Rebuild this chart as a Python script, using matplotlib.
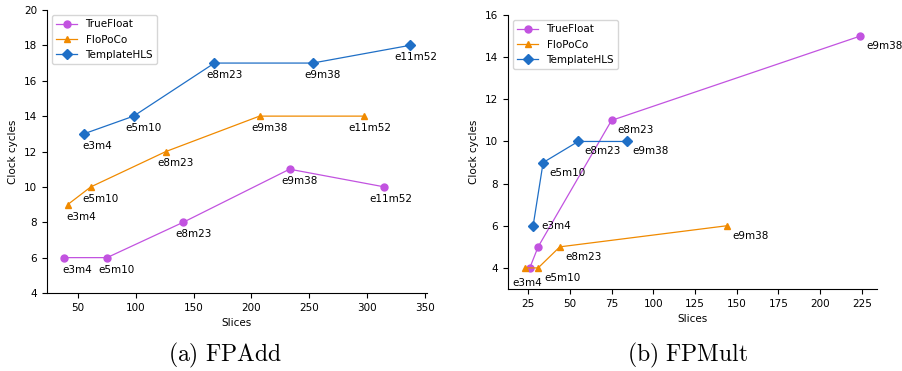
import numpy as np
import matplotlib
matplotlib.use('Agg')
import matplotlib.pyplot as plt

plt.rcParams['font.size'] = 7.5
plt.rcParams['mathtext.fontset'] = 'cm'

# FPAdd 数据
add_formats = ['e3m4', 'e5m10', 'e8m23', 'e9m38', 'e11m52']
add_truefloat_x = [38, 75, 141, 233, 315]
add_truefloat_y = [6, 6, 8, 11, 10]
add_flopoco_x = [41, 61, 126, 207, 297]
add_flopoco_y = [9, 10, 12, 14, 14]
add_hls_x = [55, 98, 168, 253, 337]
add_hls_y = [13, 14, 17, 17, 18]

# FPMult 数据
mult_formats = ['e3m4', 'e5m10', 'e8m23', 'e9m38']
mult_truefloat_x = [26, 31, 75, 224]
mult_truefloat_y = [4, 5, 11, 15]
mult_flopoco_x = [23, 31, 44, 144]
mult_flopoco_y = [4, 4, 5, 6]
mult_hls_x = [28, 34, 55, 84]
mult_hls_y = [6, 9, 10, 10]

colors = {'TrueFloat': '#c253e0', 'FloPoCo': '#f08a00', 'TemplateHLS': '#1f6fc6'}
markers = {'TrueFloat': 'o', 'FloPoCo': '^', 'TemplateHLS': 'D'}

fig = plt.figure(figsize=(9.03, 3.71), dpi=100)
ax1 = fig.add_axes([47 / 903, 1 - 293 / 371, 380 / 903, 283 / 371])
ax2 = fig.add_axes([508 / 903, 1 - 289 / 371, 369 / 903, 274 / 371])


def draw_series(ax, name, xs, ys):
    ms = 5.0 if markers[name] != 'D' else 4.6
    ax.plot(xs, ys, marker=markers[name], color=colors[name], label=name,
            linewidth=0.9, markersize=ms)


# (a) FPAdd
for name, xs, ys in [('TrueFloat', add_truefloat_x, add_truefloat_y),
                     ('FloPoCo', add_flopoco_x, add_flopoco_y),
                     ('TemplateHLS', add_hls_x, add_hls_y)]:
    draw_series(ax1, name, xs, ys)
    for fmt, x, y in zip(add_formats, xs, ys):
        ax1.annotate(fmt, (x, y), xytext=(28, -12), textcoords='offset pixels',
                     ha='right', va='center')

ax1.set_ylim(4, 20)
ax1.set_xlabel('Slices')
ax1.set_ylabel('Clock cycles')
ax1.legend(loc='upper left')

# (b) FPMult
for name, xs, ys in [('TrueFloat', mult_truefloat_x, mult_truefloat_y),
                     ('FloPoCo', mult_flopoco_x, mult_flopoco_y),
                     ('TemplateHLS', mult_hls_x, mult_hls_y)]:
    draw_series(ax2, name, xs, ys)
    for fmt, x, y in zip(mult_formats, xs, ys):
        if name == 'TrueFloat' and fmt in ('e3m4', 'e5m10'):
            continue  # 太挤了，不标
        if name == 'FloPoCo' and fmt == 'e3m4':
            ax2.annotate(fmt, (x, y), xytext=(2, -15), textcoords='offset pixels',
                         ha='center', va='center')
        elif name == 'TemplateHLS' and fmt == 'e3m4':
            ax2.annotate(fmt, (x, y), xytext=(8, 0), textcoords='offset pixels',
                         ha='left', va='center')
        else:
            ax2.annotate(fmt, (x, y), xytext=(6, -10), textcoords='offset pixels',
                         ha='left', va='center')

ax2.set_ylim(3, 16)
ax2.set_xticks(np.arange(25, 226, 25))
ax2.set_xlabel('Slices')
ax2.set_ylabel('Clock cycles')
ax2.legend(loc='upper left')

for ax in (ax1, ax2):
    ax.spines['top'].set_visible(False)
    ax.spines['right'].set_visible(False)

fig.text(225 / 903, 1 - 355 / 371, r'$\mathrm{(a)\ FPAdd}$', ha='center', va='center', fontsize=17)
fig.text(687 / 903, 1 - 355 / 371, r'$\mathrm{(b)\ FPMult}$', ha='center', va='center', fontsize=17)

fig.savefig('out.png', dpi=100)
